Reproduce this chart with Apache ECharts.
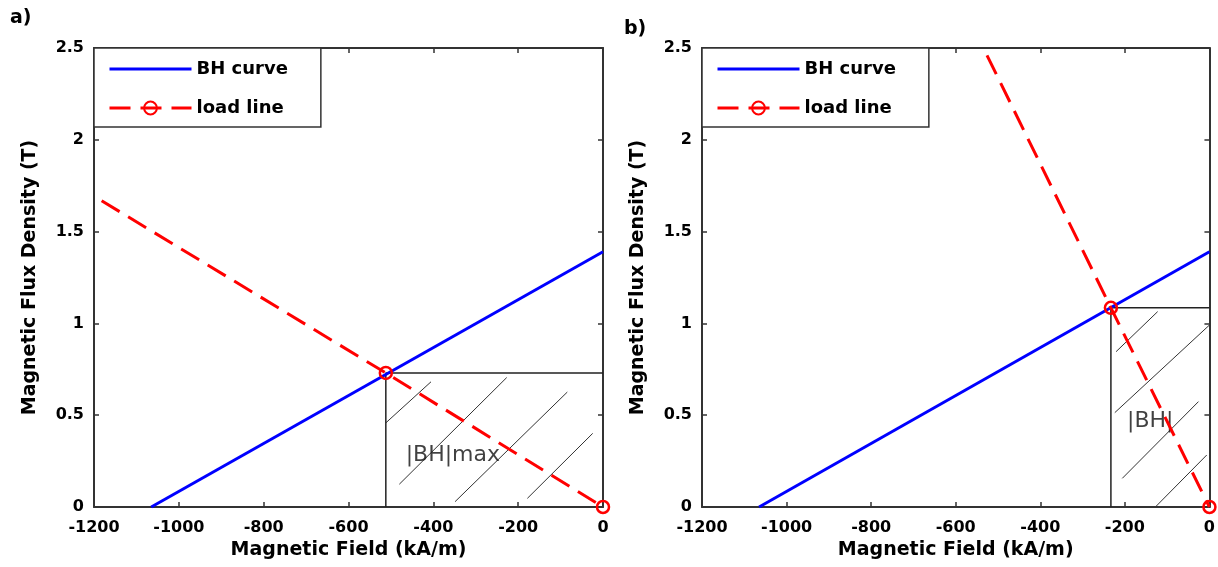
<!DOCTYPE html>
<html>
<head>
<meta charset="utf-8">
<script src="https://cdn.jsdelivr.net/npm/echarts@6/dist/echarts.min.js"></script>
<style>
  html, body { margin: 0; padding: 0; background: #fff; }
  #chart { width: 1218px; height: 567px; }
</style>
</head>
<body>
<div id="chart"></div>
<script>
// Permanent-magnet operating point: demagnetisation (BH) curve against the load line.

// Axis ranges and tick steps
const hRange = [-1200, 0];   // magnetic field, kA/m
const bRange = [0, 2.5];     // flux density, T
const hStep = 200;
const bStep = 0.5;

// BH curve of the magnet (same in both panels): coercivity end and remanence end
const bhCurve = [[-1065, 0], [0, 1.39]];

// Operating points (intersection of BH curve and load line)
const operatingA = [-512, 0.73];
const operatingB = [-233, 1.085];

// Load lines: upper end, operating point, origin
const loadLineA = [[-1182, 1.668], operatingA, [0, 0]];
const loadLineB = [[-526, 2.46], operatingB, [0, 0]];

// Hatch strokes inside the |BH| rectangles (start, end)
const hatchA = [
  [[-511.6, 0.459], [-405.5, 0.682]],
  [[-480.2, 0.124], [-227.0, 0.705]],
  [[-348.8, 0.029], [-84.2, 0.626]],
  [[-178.3, 0.047], [-24.3, 0.401]]
];
const hatchB = [
  [[-220.8, 0.846], [-122.5, 1.064]],
  [[-223.8, 0.514], [0, 0.991]],
  [[-206.1, 0.156], [-25.9, 0.574]],
  [[-125.7, 0.005], [-6.4, 0.283]]
];

// Energy-product annotations
const areaLabelA = [[-354, 0.283, '|BH|max']];
const areaLabelB = [[-140, 0.465, '|BH|']];

const seriesNames = ['BH curve', 'load line'];
const panelTags = ['a)', 'b)'];
const xTitle = 'Magnetic Field (kA/m)';
const yTitle = 'Magnetic Flux Density (T)';

const FONT = 'DejaVu Sans';
const AXIS_COLOR = '#333';

const grids = [
  { left: 94, top: 48, width: 509, height: 459 },
  { left: 702, top: 48, width: 509, height: 459 }
];

function xAxisFor(gridIndex, position) {
  const main = position === 'bottom';
  return {
    type: 'value', gridIndex, position,
    min: hRange[0], max: hRange[1], interval: hStep,
    axisLine: { show: true, onZero: false, lineStyle: { color: AXIS_COLOR, width: 2 } },
    axisTick: { show: true, inside: true, length: 5, lineStyle: { color: AXIS_COLOR, width: 1.5 } },
    splitLine: { show: false },
    axisLabel: main ? {
      show: true, margin: 13, color: '#000', fontFamily: FONT, fontWeight: 'bold', fontSize: 16,
      formatter: v => String(v)
    } : { show: false },
    name: main ? xTitle : '',
    nameLocation: 'middle', nameGap: 22,
    nameTextStyle: { color: '#000', fontFamily: FONT, fontWeight: 'bold', fontSize: 19 }
  };
}

function yAxisFor(gridIndex, position) {
  const main = position === 'left';
  return {
    type: 'value', gridIndex, position,
    min: bRange[0], max: bRange[1], interval: bStep,
    axisLine: { show: true, onZero: false, lineStyle: { color: AXIS_COLOR, width: 2 } },
    axisTick: { show: true, inside: true, length: 5, lineStyle: { color: AXIS_COLOR, width: 1.5 } },
    splitLine: { show: false },
    axisLabel: main ? {
      show: true, margin: 10, color: '#000', fontFamily: FONT, fontWeight: 'bold', fontSize: 16,
      formatter: v => String(v)
    } : { show: false },
    name: main ? yTitle : '',
    nameLocation: 'middle', nameGap: 54, nameRotate: 90,
    nameTextStyle: { color: '#000', fontFamily: FONT, fontWeight: 'bold', fontSize: 19 }
  };
}

function panelSeries(idx, loadLine, op, hatch, areaLabel) {
  const axes = { xAxisIndex: idx * 2, yAxisIndex: idx * 2 };
  return [
    {
      type: 'lines', coordinateSystem: 'cartesian2d', ...axes,
      silent: true, z: 2,
      lineStyle: { color: '#333', width: 1, opacity: 1 },
      data: hatch.map(seg => ({ coords: seg }))
    },
    {
      type: 'line', ...axes, silent: true, z: 2,
      symbol: 'none',
      lineStyle: { color: '#222', width: 1.5 },
      data: [[op[0], 0], op, [0, op[1]]]
    },
    {
      type: 'scatter', ...axes, silent: true, z: 3,
      symbolSize: 0,
      label: {
        show: true, position: 'inside', color: '#111',
        fontFamily: FONT, fontSize: 22,
        formatter: p => p.data[2]
      },
      data: areaLabel
    },
    {
      name: seriesNames[0], type: 'line', ...axes, z: 4,
      symbol: 'none', clip: false,
      lineStyle: { color: '#0000ff', width: 3 },
      data: bhCurve
    },
    {
      name: seriesNames[1], type: 'line', ...axes, z: 5,
      symbol: 'circle', symbolSize: 12, clip: false,
      itemStyle: { color: 'rgba(255,255,255,0)', borderColor: '#ff0000', borderWidth: 2.5 },
      lineStyle: { color: '#ff0000', width: 3, type: [21, 10] },
      data: loadLine.map((p, i) => i === 0 ? { value: p, symbol: 'none' } : p)
    }
  ];
}

function legendFor(left) {
  return {
    left, top: 48, orient: 'vertical',
    selectedMode: false,
    backgroundColor: '#fff',
    borderColor: AXIS_COLOR, borderWidth: 1.5,
    padding: [11, 33, 9, 14],
    itemWidth: 82, itemHeight: 16, itemGap: 19,
    lineStyle: { width: 3 },
    textStyle: { color: '#000', fontFamily: FONT, fontWeight: 'bold', fontSize: 18, lineHeight: 20 },
    data: [
      { name: seriesNames[0], itemStyle: { opacity: 0 } },
      { name: seriesNames[1] }
    ]
  };
}

const chart = echarts.init(document.getElementById('chart'), null, { renderer: 'canvas' });
chart.setOption({
  animation: false,
  backgroundColor: '#fff',
  grid: grids,
  xAxis: [xAxisFor(0, 'bottom'), xAxisFor(0, 'top'), xAxisFor(1, 'bottom'), xAxisFor(1, 'top')],
  yAxis: [yAxisFor(0, 'left'), yAxisFor(0, 'right'), yAxisFor(1, 'left'), yAxisFor(1, 'right')],
  legend: [legendFor(94), legendFor(702)],
  graphic: [
    { type: 'text', left: 10, top: 9, style: { text: panelTags[0], fill: '#000', font: 'bold 19px "DejaVu Sans"' } },
    { type: 'text', left: 624, top: 20, style: { text: panelTags[1], fill: '#000', font: 'bold 19px "DejaVu Sans"' } }
  ],
  series: [
    ...panelSeries(0, loadLineA, operatingA, hatchA, areaLabelA),
    ...panelSeries(1, loadLineB, operatingB, hatchB, areaLabelB)
  ]
});
</script>
</body>
</html>
